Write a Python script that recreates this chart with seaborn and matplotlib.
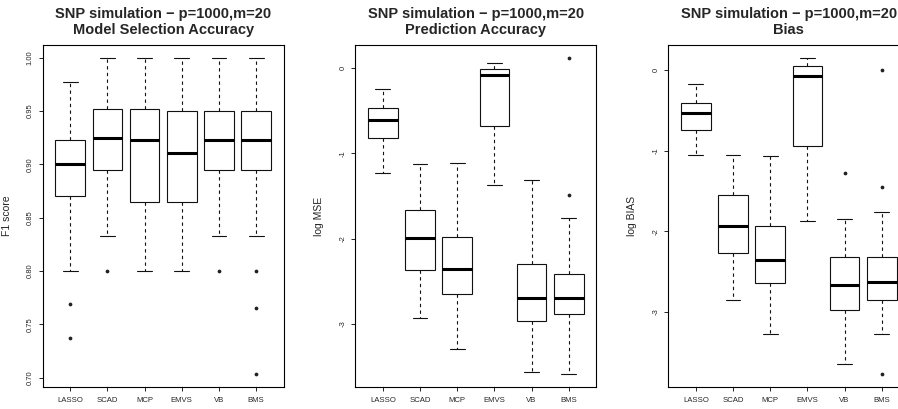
import numpy as np
import pandas as pd
import matplotlib.pyplot as plt
import seaborn as sns

methods = ["LASSO", "SCAD", "MCP", "EMVS", "VB", "BMS"]

# box summaries: lower whisker, Q1, median, Q3, upper whisker, outliers
f1_low = [0.800, 0.833, 0.800, 0.800, 0.833, 0.833]
f1_q1 = [0.870, 0.895, 0.865, 0.865, 0.895, 0.895]
f1_med = [0.900, 0.925, 0.923, 0.911, 0.923, 0.923]
f1_q3 = [0.923, 0.952, 0.952, 0.950, 0.950, 0.950]
f1_high = [0.977, 1.000, 1.000, 1.000, 1.000, 1.000]
f1_out = [[0.769, 0.737], [0.800], [], [], [0.800], [0.800, 0.765, 0.703]]

mse_low = [-1.232, -2.926, -3.297, -1.377, -3.559, -3.590]
mse_q1 = [-0.825, -2.370, -2.652, -0.677, -2.965, -2.887]
mse_med = [-0.614, -1.987, -2.358, -0.086, -2.695, -2.695]
mse_q3 = [-0.465, -1.666, -1.975, -0.012, -2.296, -2.409]
mse_high = [-0.250, -1.130, -1.119, 0.059, -1.314, -1.756]
mse_out = [[], [], [], [], [], [0.121, -1.494]]

bias_low = [-1.050, -2.855, -3.281, -1.868, -3.645, -3.273]
bias_q1 = [-0.740, -2.273, -2.645, -0.946, -2.975, -2.856]
bias_med = [-0.529, -1.938, -2.351, -0.066, -2.670, -2.632]
bias_q3 = [-0.401, -1.554, -1.930, 0.050, -2.314, -2.322]
bias_high = [-0.165, -1.050, -1.066, 0.157, -1.847, -1.760]
bias_out = [[], [], [], [], [-1.273], [0.000, -1.455, -3.777]]

subtitles = ["Model Selection Accuracy", "Prediction Accuracy", "Bias"]
ylabels = ["F1 score", "log MSE", "log BIAS"]


def to_frame(low, q1, med, q3, high, out, reps=10):
    # sample whose quartiles / whiskers reproduce the summaries above
    rows = []
    for m, lo, a, b, c, hi, extra in zip(methods, low, q1, med, q3, high, out):
        vals = [lo, hi] + [a] * reps + [b] * reps + [c] * reps + list(extra)
        rows += [(m, v) for v in vals]
    return pd.DataFrame(rows, columns=["method", "value"])


panels = [
    to_frame(f1_low, f1_q1, f1_med, f1_q3, f1_high, f1_out),
    to_frame(mse_low, mse_q1, mse_med, mse_q3, mse_high, mse_out),
    to_frame(bias_low, bias_q1, bias_med, bias_q3, bias_high, bias_out),
]
yticks = [np.round(np.arange(0.70, 1.001, 0.05), 2), [-3, -2, -1, 0], [-3, -2, -1, 0]]
yfmt = ["%.2f", "%d", "%d"]

sns.set_theme(style="ticks")
plt.rcParams["font.family"] = ["Liberation Sans", "DejaVu Sans"]
plt.rcParams["axes.unicode_minus"] = False

W, H = 898, 409
fig = plt.figure(figsize=(W / 100, H / 100), dpi=100)
lefts = [42.7, 355.3, 668.3]

for i, df in enumerate(panels):
    ax = fig.add_axes([lefts[i] / W, (H - 387) / H, 241 / W, 342 / H])
    sns.boxplot(data=df, x="method", y="value", order=methods, ax=ax,
                width=0.8, color="white", linecolor="#111111", linewidth=0.8,
                whis=1.5, fliersize=1.7,
                medianprops=dict(linewidth=2.2, color="black"),
                whiskerprops=dict(linestyle=(0, (3, 3))),
                flierprops=dict(marker="o", markerfacecolor="#222222",
                                markeredgecolor="#222222"))
    vmin, vmax = df["value"].min(), df["value"].max()
    pad = 0.04 * (vmax - vmin)
    ax.set_ylim(vmin - pad, vmax + pad)
    ax.set_xlim(-0.74, 5.74)
    ax.set_yticks(yticks[i], [yfmt[i] % t for t in yticks[i]])
    ax.tick_params(axis="y", labelsize=5.5, length=3, width=0.6, pad=3.5,
                   labelrotation=90, color="black")
    for t in ax.get_yticklabels():
        t.set_va("center")
    ax.tick_params(axis="x", labelsize=5.6, length=3, width=0.6, pad=4,
                   color="black")
    for s in ax.spines.values():
        s.set_visible(True)
        s.set_color("black")
        s.set_linewidth(0.8)
    ax.set_xlabel("")
    ax.set_ylabel(ylabels[i], fontsize=7.5)
    ax.yaxis.set_label_coords(-0.128, 0.5)
    ax.set_title("SNP simulation \u2212 p=1000,m=20\n" + subtitles[i],
                 fontsize=10.5, fontweight="bold", pad=8, linespacing=1.15)

fig.savefig("out.png", dpi=100)
